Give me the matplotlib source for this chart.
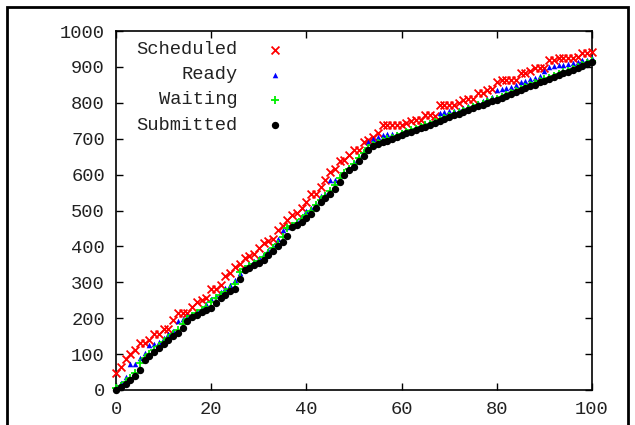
import matplotlib
matplotlib.use('Agg')
import matplotlib.pyplot as plt
from matplotlib.patches import Rectangle

# job counts, one value per step 0..100
steps = list(range(101))

scheduled = [48, 65, 85, 100, 110, 132, 132, 140, 155, 155,
             170, 170, 195, 215, 215, 215, 232, 244, 250, 255,
             280, 280, 292, 318, 327, 343, 352, 367, 373, 380,
             395, 410, 416, 420, 445, 457, 473, 487, 494, 506,
             525, 545, 545, 566, 585, 608, 615, 639, 641, 656,
             668, 668, 692, 696, 705, 717, 738, 738, 738, 738,
             738, 745, 748, 752, 752, 766, 766, 763, 794, 794,
             794, 794, 800, 808, 812, 812, 826, 828, 836, 838,
             859, 863, 863, 863, 863, 882, 884, 889, 896, 896,
             896, 919, 919, 924, 924, 924, 924, 928, 938, 938,
             942]

ready = [10, 20, 37, 72, 72, 90, 103, 125, 128, 135,
         145, 155, 165, 192, 198, 205, 212, 220, 228, 240,
         253, 262, 272, 283, 292, 305, 325, 340, 350, 358,
         368, 380, 390, 402, 420, 446, 455, 462, 470, 485,
         500, 508, 518, 540, 545, 585, 585, 588, 605, 618,
         635, 650, 665, 690, 700, 705, 710, 712, 712, 712,
         718, 720, 726, 730, 735, 740, 745, 748, 772, 774,
         776, 778, 780, 785, 790, 795, 800, 805, 810, 815,
         835, 838, 842, 845, 850, 858, 862, 866, 870, 875,
         888, 900, 902, 904, 906, 908, 910, 914, 918, 920,
         925]

waiting = [5, 12, 22, 32, 48, 75, 90, 100, 112, 122,
           133, 145, 155, 168, 185, 198, 207, 215, 222, 230,
           245, 255, 265, 273, 282, 295, 328, 337, 344, 352,
           360, 370, 383, 395, 408, 425, 450, 457, 465, 475,
           488, 500, 515, 530, 540, 553, 570, 590, 605, 617,
           630, 645, 660, 675, 682, 688, 693, 698, 703, 708,
           712, 718, 723, 727, 732, 737, 741, 746, 751, 758,
           763, 768, 773, 778, 783, 788, 793, 798, 803, 807,
           811, 817, 822, 828, 833, 838, 843, 849, 854, 860,
           865, 870, 875, 880, 885, 890, 895, 901, 906, 911,
           916]

submitted = [0, 7, 18, 28, 38, 55, 83, 95, 106, 118,
             128, 138, 150, 160, 172, 193, 203, 210, 216, 222,
             228, 242, 255, 265, 275, 282, 308, 333, 340, 347,
             355, 363, 377, 388, 400, 412, 430, 453, 460, 468,
             478, 490, 508, 523, 535, 545, 560, 580, 598, 612,
             620, 638, 652, 668, 680, 686, 690, 695, 700, 705,
             710, 715, 720, 724, 729, 734, 738, 743, 748, 755,
             760, 765, 770, 775, 780, 785, 790, 795, 800, 804,
             808, 814, 819, 825, 830, 835, 840, 846, 851, 857,
             862, 867, 872, 877, 882, 887, 892, 898, 903, 908,
             913]

series_names = ['Scheduled', 'Ready', 'Waiting', 'Submitted']
series_data = [scheduled, ready, waiting, submitted]
styles = [
    dict(marker='x', color='#ff0000', s=32, linewidths=1.3),
    dict(marker='^', color='#0000ff', s=16, linewidths=0),
    dict(marker='+', color='#00ee00', s=32, linewidths=1.3),
    dict(marker='o', color='#000000', s=28, linewidths=0),
]

mono = 'Liberation Mono'
plt.rcParams['font.family'] = mono
fsize = 13.5
text_col = '#222222'

fig = plt.figure(figsize=(6.35, 4.25), dpi=100)
ax = fig.add_axes([0.1827, 0.0824, 0.7496, 0.8446])

for data, st in zip(series_data, styles):
    ax.scatter(steps, data, clip_on=False, zorder=3, **st)

ax.set_xlim(0, 100)
ax.set_ylim(0, 1000)
ax.set_xticks(range(0, 101, 20))
ax.set_yticks(range(0, 1001, 100))
ax.tick_params(direction='in', length=5, width=1, top=True, right=True,
               labelsize=fsize, labelcolor=text_col, pad=8)
for sp in ax.spines.values():
    sp.set_linewidth(1.2)

# gnuplot style key: right-aligned labels, sample marker on the right
for i, (name, st) in enumerate(zip(series_names, styles)):
    y = 0.948 - i * 0.07
    ax.text(0.255, y, name, transform=ax.transAxes, ha='right', va='center',
            fontsize=fsize, color=text_col)
    ax.scatter([0.335], [y], transform=ax.transAxes, clip_on=False, zorder=4,
               **st)

# frame around the whole picture
fig.patches.append(Rectangle((7 / 635, -0.1), 621 / 635, 1.1 - 7 / 425,
                             transform=fig.transFigure, fill=False,
                             edgecolor='black', linewidth=2))

fig.savefig('out.png', dpi=100)
